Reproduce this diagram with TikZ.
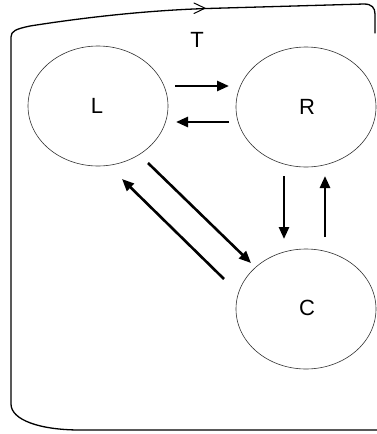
\documentclass[tikz,border=0pt]{standalone}
\usepackage{fontspec}
\setmainfont{Liberation Sans}
\usetikzlibrary{shapes.geometric,arrows.meta}

\tikzset{
  state/.style={ellipse, draw=black!80, line width=0.6pt, minimum width=140pt, minimum height=120pt, inner sep=0pt},
  lbl/.style={font=\fontsize{22}{22}\selectfont},
  flow/.style={line width=2.6pt, -{Triangle[length=12pt,width=10pt]}},
  frame/.style={line width=1.3pt, line join=round, line cap=round},
}

\begin{document}
\begin{tikzpicture}[x=1pt, y=-1pt]
  \useasboundingbox (0,0) rectangle (377,434);

  % the three states
  \node[state] (L) at (98,106) {};
  \node[state] (R) at (306,107) {};
  \node[state] (C) at (306,309) {};
  \node[lbl] (Ltext) at (97,106) {L};
  \node[lbl] (Rtext) at (307,107) {R};
  \node[lbl] (Ctext) at (307,308) {C};
  \node[lbl] (T) at (197,40) {T};

  % arrow end points
  \coordinate (lr1) at (175,86);   \coordinate (lr2) at (229,86);
  \coordinate (rl1) at (229,122);  \coordinate (rl2) at (176,122);
  \coordinate (rc1) at (284,176);  \coordinate (rc2) at (284,239);
  \coordinate (cr1) at (325,237);  \coordinate (cr2) at (325,176);
  \coordinate (lc1) at (148,163);  \coordinate (lc2) at (251,263);
  \coordinate (cl1) at (224,279);  \coordinate (cl2) at (122,179);

  \draw[flow] (lr1) -- (lr2);
  \draw[flow] (rl1) -- (rl2);
  \draw[flow] (rc1) -- (rc2);
  \draw[flow] (cr1) -- (cr2);
  \draw[flow] (lc1) -- (lc2);
  \draw[flow] (cl1) -- (cl2);

  % outer loop of T
  \coordinate (f1) at (375,33);
  \coordinate (f2) at (11,37);
  \coordinate (f3) at (377,430);
  \draw[frame] (f1) -- (375,14) .. controls (375,8) and (372,4) .. (364,4)
    -- (207,8.5) .. controls (160,10) and (100,15) .. (30,26)
    .. controls (16,29) and (11,31) .. (f2)
    -- (11,404) .. controls (11,420) and (40,430) .. (80,430) -- (f3);
  % direction mark on the top edge
  \draw[line width=1pt, line cap=round, line join=miter]
    (194,3) -- (205,8.2) -- (194,13.5);
\end{tikzpicture}
\end{document}
